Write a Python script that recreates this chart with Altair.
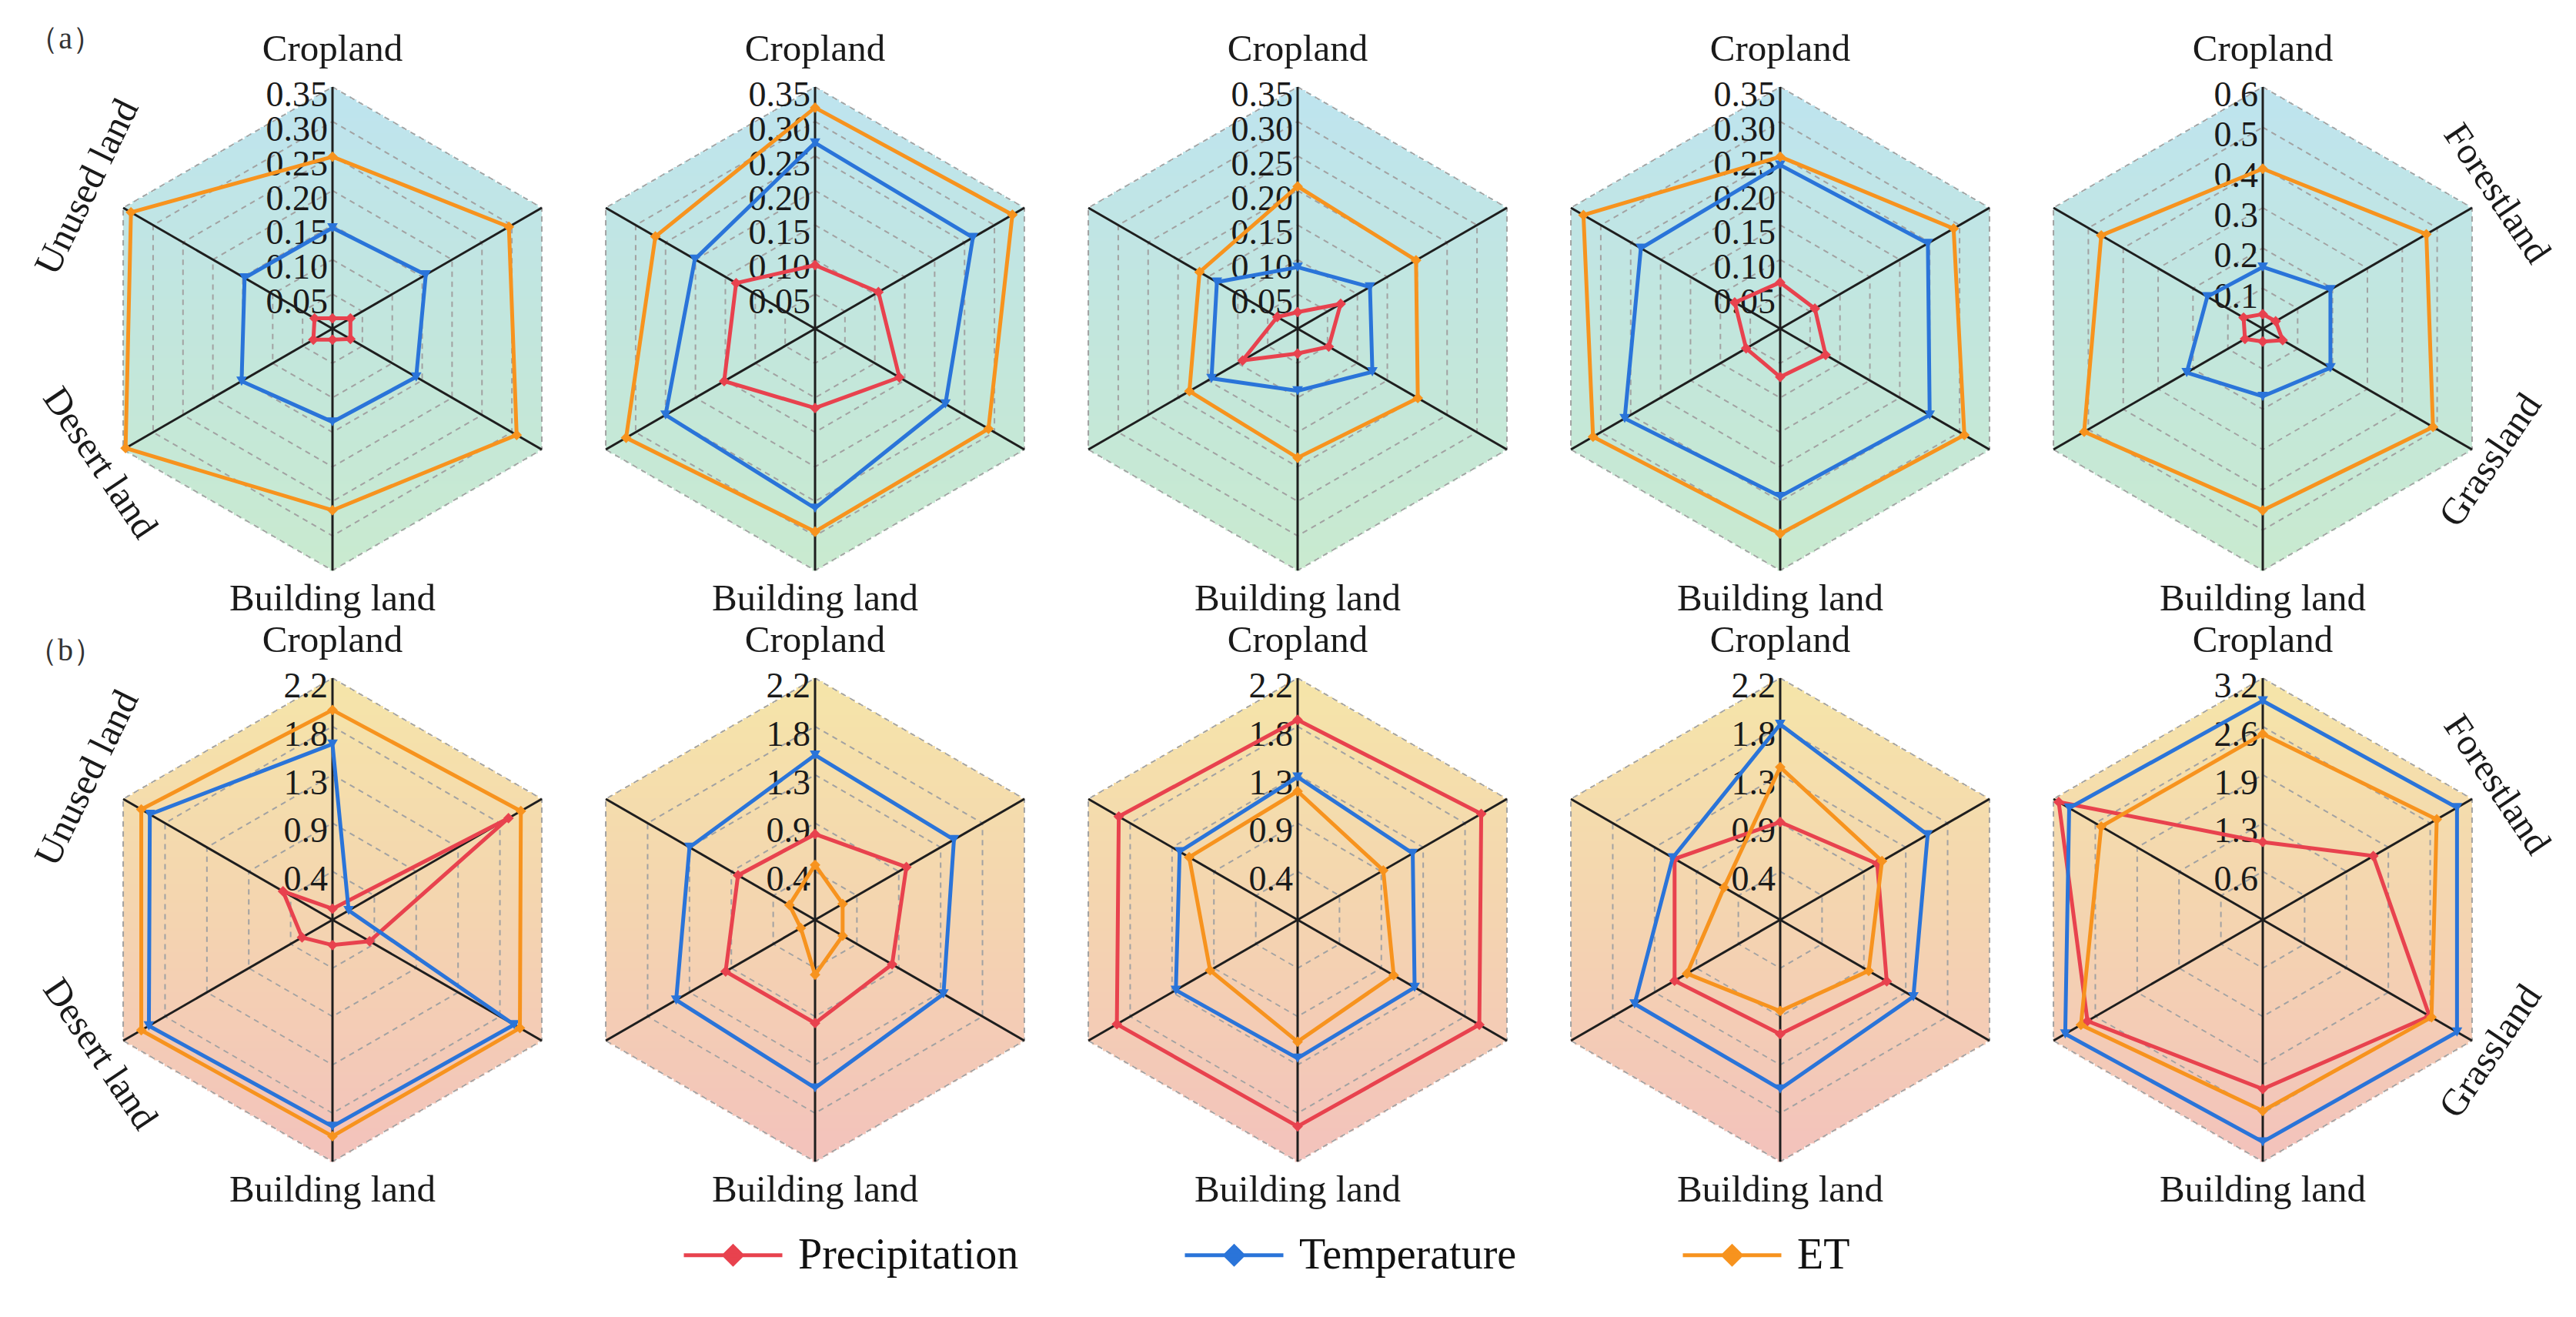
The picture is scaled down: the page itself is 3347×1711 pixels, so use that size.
import altair as alt
import pandas as pd

# ---------------- data ----------------
CATEGORIES = ["Cropland", "Forestland", "Grassland", "Building land", "Desert land", "Unused land"]
SERIES = ["Precipitation", "Temperature", "ET"]
SERIES_COLORS = ["#E8424E", "#2A74D9", "#F7931E"]
SERIES_SHAPES = ["diamond", "triangle-down", "diamond"]

# row (a) - values in CATEGORIES order
A1_PRECIP = [0.015, 0.030, 0.030, 0.016, 0.032, 0.030]
A1_TEMP = [0.146, 0.156, 0.140, 0.135, 0.152, 0.147]
A1_ET = [0.249, 0.295, 0.308, 0.263, 0.346, 0.337]

A2_PRECIP = [0.092, 0.106, 0.141, 0.115, 0.152, 0.132]
A2_TEMP = [0.269, 0.264, 0.218, 0.260, 0.250, 0.201]
A2_ET = [0.320, 0.330, 0.290, 0.294, 0.316, 0.267]

A3_PRECIP = [0.024, 0.072, 0.052, 0.036, 0.092, 0.034]
A3_TEMP = [0.089, 0.121, 0.125, 0.090, 0.144, 0.135]
A3_ET = [0.206, 0.198, 0.201, 0.187, 0.181, 0.164]

A4_PRECIP = [0.067, 0.058, 0.076, 0.070, 0.057, 0.076]
A4_TEMP = [0.237, 0.247, 0.250, 0.243, 0.260, 0.233]
A4_ET = [0.249, 0.290, 0.308, 0.297, 0.313, 0.329]

A5_PRECIP = [0.036, 0.037, 0.057, 0.032, 0.051, 0.055]
A5_TEMP = [0.153, 0.194, 0.194, 0.168, 0.218, 0.159]
A5_ET = [0.397, 0.469, 0.488, 0.451, 0.512, 0.463]

# row (b)
B1_PRECIP = [0.10, 1.85, 0.39, 0.23, 0.32, 0.52]
B1_TEMP = [1.60, 0.17, 1.91, 1.88, 1.93, 1.92]
B1_ET = [1.91, 1.98, 1.97, 1.97, 2.01, 2.01]

B2_PRECIP = [0.78, 0.96, 0.81, 0.94, 0.94, 0.81]
B2_TEMP = [1.50, 1.46, 1.35, 1.53, 1.46, 1.32]
B2_ET = [0.50, 0.29, 0.29, 0.50, 0.15, 0.27]

B3_PRECIP = [1.82, 1.93, 1.91, 1.88, 1.90, 1.88]
B3_TEMP = [1.30, 1.21, 1.23, 1.26, 1.28, 1.24]
B3_ET = [1.17, 0.90, 1.01, 1.11, 0.92, 1.14]

B4_PRECIP = [0.89, 1.02, 1.12, 1.04, 1.11, 1.11]
B4_TEMP = [1.78, 1.55, 1.40, 1.54, 1.53, 1.13]
B4_ET = [1.39, 1.07, 0.93, 0.83, 0.98, 0.59]

B5_PRECIP = [1.03, 1.69, 2.55, 2.24, 2.68, 3.12]
B5_TEMP = [2.90, 2.97, 2.97, 2.94, 3.02, 2.96]
B5_ET = [2.46, 2.66, 2.58, 2.53, 2.78, 2.47]

PANEL_MAX_A = [0.35, 0.35, 0.35, 0.35, 0.6]
PANEL_MAX_B = [2.2, 2.2, 2.2, 2.2, 3.2]

TICKS_A = ["0.05", "0.10", "0.15", "0.20", "0.25", "0.30", "0.35"]
TICKS_A5 = ["0.1", "0.2", "0.3", "0.4", "0.5", "0.6"]
TICKS_B = ["0.4", "0.9", "1.3", "1.8", "2.2"]
TICKS_B5 = ["0.6", "1.3", "1.9", "2.6", "3.2"]

ROW_LETTERS = ["（a）", "（b）"]

# background colour stops: row a (top, middle, bottom), row b (top, middle, bottom)
BG_STOPS = [0, 0.5, 1, 2, 2.5, 3]
BG_COLORS = ["#BEE4EF", "#C2E6DD", "#C9EACF", "#F5E5A9", "#F4D4B0", "#F3C2BC"]

# ---------------- layout (pixels) ----------------
X0, PITCH_X = 432, 627
Y0, PITCH_Y = 427, 768
R = 314
STRIPS = 157
LABEL_R = "[363, 351, 342, 351, 349, 368]"
LABEL_ROT = "[0, 56, 304, 0, 56, 296]"
FONT = "Liberation Serif"

panel_values = [
    [(A1_PRECIP, A1_TEMP, A1_ET), (A2_PRECIP, A2_TEMP, A2_ET), (A3_PRECIP, A3_TEMP, A3_ET),
     (A4_PRECIP, A4_TEMP, A4_ET), (A5_PRECIP, A5_TEMP, A5_ET)],
    [(B1_PRECIP, B1_TEMP, B1_ET), (B2_PRECIP, B2_TEMP, B2_ET), (B3_PRECIP, B3_TEMP, B3_ET),
     (B4_PRECIP, B4_TEMP, B4_ET), (B5_PRECIP, B5_TEMP, B5_ET)],
]
panel_max = [PANEL_MAX_A, PANEL_MAX_B]
panel_ticks = [[TICKS_A] * 4 + [TICKS_A5], [TICKS_B] * 4 + [TICKS_B5]]

series_rows, ring_rows, spoke_rows, strip_rows, tick_rows, label_rows, letter_rows = [], [], [], [], [], [], []
for r in range(2):
    letter_rows.append(dict(row=r, col=0, label=ROW_LETTERS[r]))
    for c in range(5):
        key = f"{r}-{c}"
        vmax = panel_max[r][c]
        for s, vals in zip(SERIES, panel_values[r][c]):
            for i in range(7):
                series_rows.append(dict(row=r, col=c, key=key, series=s, idx=i,
                                        category=CATEGORIES[i % 6], value=vals[i % 6], vmax=vmax))
        ticks = panel_ticks[r][c]
        n = len(ticks)
        for k, lab in enumerate(ticks, 1):
            tick_rows.append(dict(row=r, col=c, k=k, n=n, label=lab))
            for i in range(7):
                ring_rows.append(dict(row=r, col=c, ring=f"{key}-{k}", idx=i, k=k, n=n))
        for i in range(6):
            spoke_rows.append(dict(row=r, col=c, idx=i))
        for j in range(STRIPS):
            strip_rows.append(dict(row=r, col=c, j=j))
        shown = [0, 3] + ([4, 5] if c == 0 else []) + ([1, 2] if c == 4 else [])
        for i in shown:
            label_rows.append(dict(row=r, col=c, idx=i, label=CATEGORIES[i]))

CX = f"({X0} + datum.col * {PITCH_X})"
CY = f"({Y0} + datum.row * {PITCH_Y})"


def polar_x(rn):
    return f"{CX} + {R} * ({rn}) * sin(datum.idx * PI / 3)"


def polar_y(rn):
    return f"{CY} - {R} * ({rn}) * cos(datum.idx * PI / 3)"


xs = alt.Scale(domain=[8, 3339], nice=False, zero=False)
ys = alt.Scale(domain=[8, 1703], nice=False, zero=False, reverse=True)


def X(f):
    return alt.X(f"{f}:Q", scale=xs, axis=None)


def Y(f):
    return alt.Y(f"{f}:Q", scale=ys, axis=None)


color_scale = alt.Scale(domain=SERIES, range=SERIES_COLORS)
legend = alt.Legend(
    orient="none", legendX=878, legendY=1556, direction="horizontal", title=None,
    symbolType="M-1,0H1M-0.18,0L0,-0.18L0.18,0L0,0.18Z", symbolSize=16384, symbolStrokeWidth=5,
    labelFont=FONT, labelFontSize=56, labelColor="#111111", labelOffset=18, labelLimit=600,
    columnPadding=205, gridAlign="each", padding=0,
)

# hexagonal background built from thin horizontal strips, shaded top-to-bottom
strip_h = 2 * R / STRIPS
bg = alt.Chart(pd.DataFrame(strip_rows)).transform_calculate(
    y1=f"{CY} - {R} + datum.j * {strip_h}",
    y2=f"{CY} - {R} + (datum.j + 1) * {strip_h} + 0.6",
    dm=f"abs(-{R} + (datum.j + 0.5) * {strip_h})",
    t=f"datum.row * 2 + (datum.j + 0.5) / {STRIPS}",
).transform_calculate(
    hw=f"{R} * sin(PI / 3) * (datum.dm <= {R} / 2 ? 1 : ({R} - datum.dm) / ({R} / 2))",
).transform_calculate(
    x1=f"{CX} - datum.hw", x2=f"{CX} + datum.hw",
).mark_rect(strokeWidth=0).encode(
    x=X("x1"), x2=alt.X2("x2"), y=Y("y1"), y2=alt.Y2("y2"),
    fill=alt.Fill("t:Q", scale=alt.Scale(domain=BG_STOPS, range=BG_COLORS, interpolate="rgb"),
                  legend=None),
)

# grid rings
rings = alt.Chart(pd.DataFrame(ring_rows)).transform_calculate(
    gx=polar_x("datum.k / datum.n"), gy=polar_y("datum.k / datum.n")
).mark_line(color="#A2A2A2", strokeWidth=2, strokeDash=[7, 6]).encode(
    x=X("gx"), y=Y("gy"), detail="ring:N", order="idx:Q")

# spokes
spokes = alt.Chart(pd.DataFrame(spoke_rows)).transform_calculate(
    cx=CX, cy=CY, vx=polar_x("1"), vy=polar_y("1")
).mark_rule(color="#1E1E1E", strokeWidth=3).encode(
    x=X("cx"), y=Y("cy"), x2=alt.X2("vx"), y2=alt.Y2("vy"))

# tick labels
ticks = alt.Chart(pd.DataFrame(tick_rows)).transform_calculate(
    tx=CX, ty=f"{CY} - {R} * datum.k / datum.n"
).mark_text(align="right", baseline="middle", font=FONT, fontSize=46, color="#1A1A1A",
            dx=-6, dy=11).encode(x=X("tx"), y=Y("ty"), text="label:N")

# series
base = alt.Chart(pd.DataFrame(series_rows)).transform_calculate(
    rn="datum.value / datum.vmax"
).transform_calculate(px=polar_x("datum.rn"), py=polar_y("datum.rn"))

series_layers = []
for s, shp in zip(SERIES, SERIES_SHAPES):
    sub = base.transform_filter(alt.datum.series == s)
    series_layers.append(sub.mark_line(strokeWidth=5).encode(
        x=X("px"), y=Y("py"),
        color=alt.Color("series:N", scale=color_scale, legend=legend),
        detail="key:N", order="idx:Q"))
    series_layers.append(sub.transform_filter("datum.idx < 6").mark_point(
        filled=True, size=190, opacity=1, shape=shp).encode(
        x=X("px"), y=Y("py"),
        color=alt.Color("series:N", scale=color_scale, legend=legend)))

# category labels
labels = alt.Chart(pd.DataFrame(label_rows)).transform_calculate(
    lx=f"{CX} + {LABEL_R}[datum.idx] * sin(datum.idx * PI / 3)",
    ly=f"{CY} - {LABEL_R}[datum.idx] * cos(datum.idx * PI / 3)",
    rot=f"{LABEL_ROT}[datum.idx]",
).mark_text(align="center", baseline="middle", font=FONT, fontSize=49, color="#1A1A1A").encode(
    x=X("lx"), y=Y("ly"), text="label:N", angle=alt.Angle("rot:Q", scale=None))

# row letters
letters = alt.Chart(pd.DataFrame(letter_rows)).transform_calculate(
    lx=f"{CX} - 347", ly=f"{CY} - (datum.row == 0 ? 376 : 349)"
).mark_text(align="center", baseline="middle", font=FONT, fontSize=40, color="#333333").encode(
    x=X("lx"), y=Y("ly"), text="label:N")

chart = alt.layer(bg, rings, spokes, ticks, *series_layers, labels, letters).properties(
    width=3331, height=1695, padding=0, autosize="none", background="white"
).configure_view(stroke=None)

chart.save("out.html", embed_options={"renderer": "svg", "actions": False})
